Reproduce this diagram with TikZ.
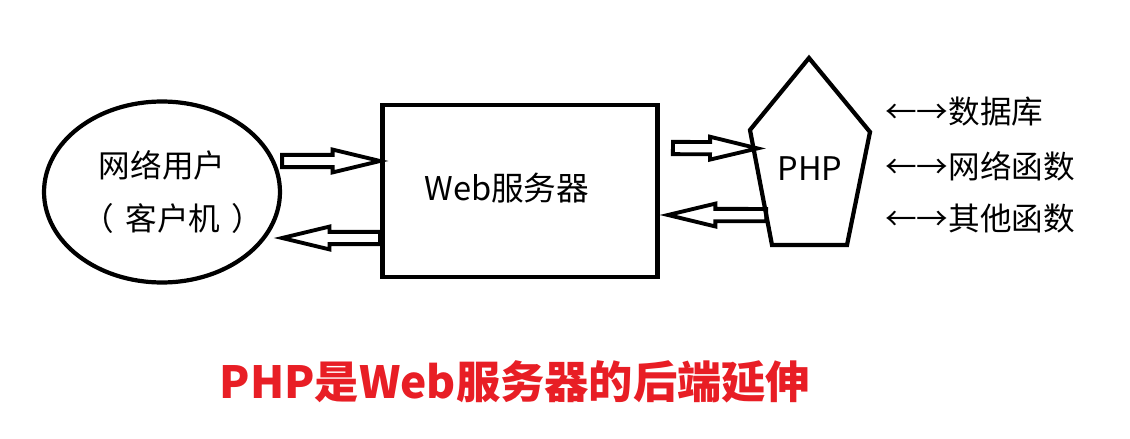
\documentclass[tikz,border=0pt]{standalone}
\usepackage{fontspec}
\setmainfont{Noto Sans CJK SC}
\usetikzlibrary{calc,positioning,shapes.geometric}
\definecolor{titlered}{RGB}{232,30,37}

\tikzset{
  % hollow block arrow from start to target
  hollow/.style={line width=2.2pt, line join=miter, to path={
    ($(\tikztotarget)!27pt!(\tikztostart)$) coordinate (hb)
    ($(\tikztostart)!3.5pt!90:(\tikztotarget)$)
    -- ($(hb)!3.5pt!-90:(\tikztostart)$)
    -- ($(hb)!6.5pt!-90:(\tikztostart)$)
    -- (\tikztotarget)
    -- ($(hb)!6.5pt!90:(\tikztostart)$)
    -- ($(hb)!3.5pt!90:(\tikztostart)$)
    -- ($(\tikztostart)!3.5pt!-90:(\tikztotarget)$)
    -- cycle}},
  lbl/.style={font=\fontsize{18}{22}\selectfont, anchor=west, inner sep=0pt}
}

\begin{document}
\begin{tikzpicture}[x=0.02cm, y=-0.02cm]
      \useasboundingbox (0,0) rectangle (1130,439);

      % client and web server
      \node[ellipse,draw,line width=2.4pt,minimum width=4.72cm,minimum height=3.62cm,
            inner sep=0pt,align=center,font=\fontsize{18}{32}\selectfont] (user) at (162,192)
            {\raisebox{-5pt}{网络用户}\\\raisebox{-3pt}{\makebox[4em]{\hspace*{0.7em}（\hspace{0.35em}客户机\hspace{0.35em}）}}};
      \node[draw,line width=2.8pt,minimum width=5.5cm,minimum height=3.44cm,
            font=\fontsize{18.6}{20}\selectfont] (web) at (520,191)
            {\hspace*{-15pt}\raisebox{4.5pt}{Web服务器}};

      % PHP pentagon
      \coordinate (p1) at (809,58);
      \coordinate (p2) at (870,132);
      \coordinate (p3) at (847,245);
      \coordinate (p4) at (772,245);
      \coordinate (p5) at (750,130);
      \draw[line width=2.4pt,line join=miter] (p1) -- (p2) -- (p3) -- (p4) -- (p5) -- cycle;
      \node[font=\fontsize{18.5}{20}\selectfont] (php) at (810,169) {PHP};

      % hollow arrows
      \draw[hollow] (user.east |- 0,161) to (web.west |- 0,161);
      \draw[hollow] (web.west |- 0,238) to (user.east |- 0,238);
      \draw[hollow] ($(web.east |- 0,148)+(13,0)$) to ($(p5)!0.16!(p4)+(4,0)$);
      \draw[hollow] ($(p5)!0.74!(p4)$) to ($(web.east |- 0,215)+(8,0)$);

      % PHP back ends
      \node[lbl] (db) at (885,112) {←→数据库};
      \node[lbl,below=1.08cm of db.west,anchor=west] (net) {←→网络函数};
      \node[lbl,below=1.06cm of net.west,anchor=west] (other) {←→其他函数};

      % caption
      \node[font=\fontsize{25.2}{30}\selectfont\bfseries,text=titlered] (title) at (515,382)
            {PHP是Web服务器的后端延伸};

\end{tikzpicture}
\end{document}
